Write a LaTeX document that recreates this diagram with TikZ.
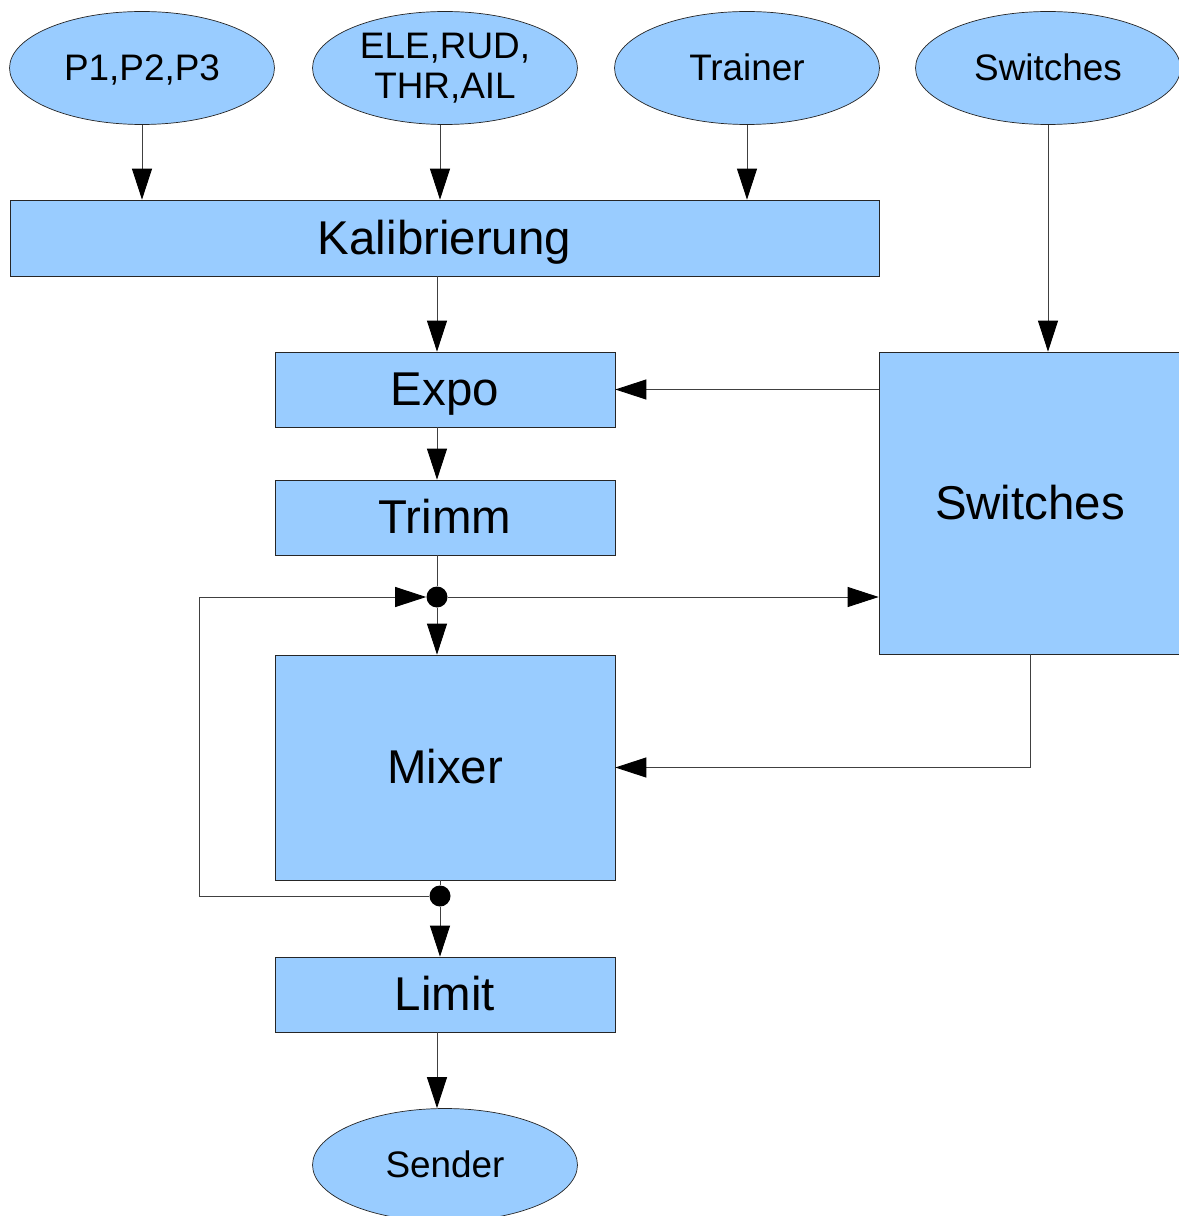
\documentclass[tikz,border=0pt]{standalone}
\usepackage{fontspec}
\setmainfont{Liberation Sans}
\usetikzlibrary{shapes.geometric,arrows.meta}
\definecolor{boxblue}{HTML}{99CCFF}
\definecolor{linegray}{HTML}{404040}
\begin{document}
\begin{tikzpicture}[x=0.02cm, y=-0.02cm,
  srcnode/.style={draw=black!85, fill=boxblue, ellipse, minimum width=5.3cm, minimum height=2.26cm, inner sep=0pt, align=center, font=\fontsize{21}{23}\selectfont},
  blocknode/.style={draw=black!85, fill=boxblue, minimum width=6.8cm, minimum height=1.5cm, inner sep=0pt, text height=24.4pt, text depth=5.7pt, font=\fontsize{27}{30}\selectfont},
  joint/.style={circle, fill=black, minimum size=0.42cm, inner sep=0pt},
  flow/.style={draw=linegray, line width=0.5pt, -{Triangle[length=0.62cm, width=0.4cm, color=black]}},
  wire/.style={draw=linegray, line width=0.5pt}]
\useasboundingbox (0,0) rectangle (1178,1216);

% inputs
\node[srcnode, text height=19pt, text depth=4.5pt] (pin) at (142,68) {P1,P2,P3};
\node[srcnode] (stick) at (445,68) {ELE,RUD,\\THR,AIL};
\node[srcnode, text height=19pt, text depth=4.5pt] (train) at (747,68) {Trainer};
\node[srcnode, text height=19pt, text depth=4.5pt] (swin) at (1048,68) {Switches};

% processing chain
\node[blocknode, minimum width=17.38cm, minimum height=1.52cm] (kal) at (444.5,238) {Kalibrierung};
\node[blocknode] (expo) at (445,389.5) {Expo};
\node[blocknode] (trim) at (445,517.5) {Trimm};
\node[blocknode, minimum height=4.5cm] (mix) at (445,767.5) {Mixer};
\node[blocknode] (lim) at (445,994.5) {Limit};
\node[blocknode, minimum width=6.04cm, minimum height=6.04cm] (sw) at (1030,503) {Switches};
\node[srcnode, text height=19pt, text depth=4.5pt] (send) at (445,1165) {Sender};

% junctions
\node[joint] (j1) at (437,597) {};
\node[joint] (j2) at (440,896) {};

\draw[flow] (pin.south) -- (pin.south |- kal.north);
\draw[flow] ([xshift=-0.1cm]stick.south) -- ([xshift=-0.1cm]stick.south |- kal.north);
\draw[flow] (train.south) -- (train.south |- kal.north);
\draw[flow] (swin.south) -- (swin.south |- sw.north);
\draw[flow] (j1 |- kal.south) -- (j1 |- expo.north);
\draw[flow] (sw.west |- expo.east) -- (expo.east);
\draw[flow] (j1 |- expo.south) -- (j1 |- trim.north);
\draw[wire] (j1 |- trim.south) -- (j1);
\draw[flow] (j1) -- (j1 |- mix.north);
\draw[flow] (j1) -- (j1 -| sw.west);
\draw[flow] (j2) -- ++(-241,0) |- (j1);
\draw[flow] (sw.south) |- (mix.east);
\draw[wire] (j2 |- mix.south) -- (j2);
\draw[flow] (j2) -- (j2 |- lim.north);
\draw[flow] (j1 |- lim.south) -- (j1 |- send.north);
\end{tikzpicture}
\end{document}
